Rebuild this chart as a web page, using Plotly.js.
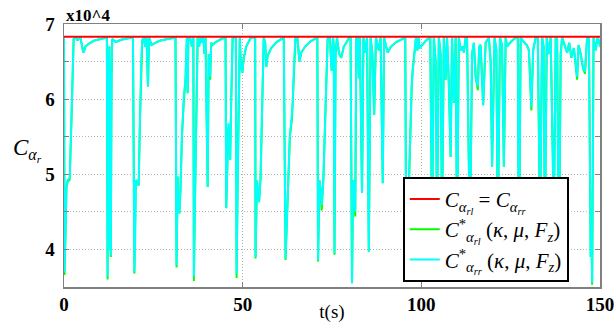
<!DOCTYPE html>
<html>
<head>
<meta charset="utf-8">
<script src="https://cdn.plot.ly/plotly-3.0.1.min.js"></script>
<style>html,body{margin:0;padding:0;background:#fff;}#chart{width:614px;height:323px;}</style>
</head>
<body>
<div id="chart"></div>
<script>
// time (s)
const tSec = [
0,0.15,0.4,0.7,1.0,1.6,2.0,2.5,2.7,3.3,3.8,4.2,4.6,5.3,5.5,6.0,7.0,8.5,10.0,11.5,
12.0,12.2,12.4,12.55,12.7,12.9,13.1,13.3,13.5,14.5,16.0,18.0,19.3,19.7,19.9,20.1,20.5,20.9,21.2,21.6,
21.9,22.3,22.7,23.1,23.5,23.8,24.5,25.5,27.0,29.0,31.2,31.5,31.8,32.0,32.3,32.6,33.0,33.5,34.0,34.2,
34.4,34.6,34.8,35.3,35.8,36.2,36.35,36.6,37.0,37.4,37.8,38.2,38.6,39.0,39.3,39.6,40.2,40.5,40.9,41.2,
41.5,42.5,44.0,45.2,45.4,45.7,46.0,46.2,46.5,46.8,47.2,48.1,48.3,48.6,48.9,49.2,49.5,49.9,50.3,51.0,
52.3,53.5,53.6,54.0,54.3,54.6,55.0,55.4,55.9,56.3,56.6,57.0,58.0,59.5,61.5,62.0,62.6,63.2,63.8,64.0,
64.4,64.8,65.3,65.9,66.4,67.5,69.0,70.9,71.1,71.5,71.8,72.1,72.6,73.2,73.8,74.4,74.9,75.3,75.5,75.7,
76.0,76.4,77.0,77.6,78.3,79.0,79.8,80.2,80.6,80.9,81.2,81.5,81.8,82.2,82.5,82.8,83.4,83.8,84.3,84.8,
85.3,85.8,86.3,86.8,87.3,88.1,88.6,89.2,89.6,90.0,90.6,91.5,93.0,95.5,95.8,96.3,96.8,97.3,97.6,98.0,
98.5,98.9,99.2,99.5,100.5,101.5,102.5,103.0,103.5,104.0,104.4,104.9,105.4,105.8,106.3,106.8,107.2,107.7,108.2,108.6,
109.1,109.6,110.0,110.5,111.0,111.5,111.9,112.4,112.8,113.6,114.2,114.7,115.2,115.8,116.2,116.6,117.3,118.0,118.9,119.4,
119.8,120.5,121.0,121.4,122.0,122.6,123.1,123.6,124.0,125.0,126.4,127.0,127.3,127.8,128.7,129.5,130.1,130.8,131.3,132.0,
132.6,133.2,133.8,134.2,134.6,135.1,135.6,136.2,137.1,137.6,138.0,138.5,139.0,139.4,140.2,140.8,141.4,142.0,142.7,143.3,
143.6,144.0,144.6,145.3,145.8,146.4,146.9,147.4,147.6,147.8,148.2,148.8,149.3,149.7,150.0
];
// C*_alpha_rr (x10^4)
const cyanVals = [
6.82,3.70,4.20,4.85,4.92,4.95,5.60,6.50,6.80,6.82,6.78,6.82,6.82,6.64,6.62,6.70,6.74,6.78,6.80,6.82,
6.82,3.64,6.60,4.00,6.70,4.50,3.92,6.30,6.80,6.76,6.79,6.81,6.82,3.71,4.10,4.92,4.90,4.85,5.60,6.50,
6.78,6.82,6.70,6.82,6.17,6.82,6.72,6.75,6.78,6.80,6.82,3.79,4.97,4.60,4.48,4.80,5.50,6.00,6.26,6.55,
6.82,6.08,6.80,6.82,6.70,6.82,3.64,4.50,6.00,6.82,6.70,6.82,6.75,6.82,6.60,6.82,4.83,6.60,6.30,6.75,
6.72,6.76,6.80,6.82,4.55,5.00,5.68,5.55,5.19,6.00,6.82,6.82,3.68,4.90,5.80,6.82,6.45,6.35,6.55,6.70,
6.82,6.82,3.90,4.92,4.75,4.63,4.95,6.00,6.82,6.75,6.43,6.58,6.68,6.76,6.82,3.88,4.80,5.50,5.81,5.95,
6.50,6.82,6.82,6.50,6.62,6.70,6.77,6.82,3.86,4.92,4.80,4.59,4.95,6.00,6.82,6.82,6.38,6.82,6.70,3.95,
6.60,6.82,6.60,6.55,6.70,6.75,6.82,6.82,3.55,4.92,4.90,4.50,6.82,6.82,6.28,6.82,4.75,6.82,6.62,6.82,
3.97,6.82,6.60,5.79,6.82,6.65,6.82,4.88,6.82,6.73,6.62,6.70,6.76,6.82,3.68,4.50,5.50,6.20,6.39,6.60,
6.82,6.65,6.82,6.68,6.74,6.79,6.82,4.20,6.82,6.50,4.40,6.82,6.60,4.30,6.82,6.26,6.82,6.20,5.23,6.82,
5.95,6.82,4.20,6.82,6.65,6.70,6.62,6.82,6.82,4.10,6.60,6.75,6.30,6.17,6.70,6.72,5.92,6.75,6.82,6.50,
5.10,6.82,6.65,4.20,6.82,6.72,5.10,6.82,6.70,6.76,6.82,6.82,3.65,6.82,6.76,6.72,6.65,5.90,6.65,6.82,
6.82,4.30,6.82,6.70,4.20,6.82,6.60,6.82,4.40,6.82,6.80,3.72,6.60,6.82,6.70,6.62,6.75,6.55,6.68,6.45,
6.30,6.72,6.60,6.40,6.37,6.82,6.82,3.90,4.30,3.56,6.82,6.65,6.82,6.78,6.70
];
// C*_alpha_rl (x10^4)
const greenVals = [
6.82,3.66,4.18,4.83,4.90,4.93,5.58,6.48,6.80,6.82,6.78,6.82,6.82,6.64,6.62,6.70,6.74,6.78,6.80,6.82,
6.82,3.60,6.60,4.00,6.70,4.50,3.90,6.30,6.80,6.76,6.79,6.81,6.82,3.68,4.10,4.92,4.90,4.85,5.60,6.50,
6.78,6.82,6.70,6.82,6.17,6.82,6.72,6.75,6.78,6.80,6.82,3.76,4.97,4.60,4.48,4.80,5.50,5.95,6.26,6.55,
6.82,6.08,6.80,6.82,6.70,6.82,3.58,4.50,6.00,6.82,6.70,6.82,6.75,6.82,6.60,6.82,4.83,6.60,6.26,6.75,
6.72,6.76,6.80,6.82,4.55,5.00,5.62,5.55,5.19,6.00,6.82,6.82,3.62,4.90,5.80,6.82,6.45,6.35,6.55,6.70,
6.82,6.82,3.88,4.92,4.75,4.63,4.93,6.00,6.82,6.75,6.43,6.58,6.68,6.76,6.82,3.86,4.80,5.50,5.74,5.95,
6.50,6.82,6.82,6.50,6.62,6.70,6.77,6.82,3.84,4.92,4.80,4.52,4.95,6.00,6.82,6.82,6.38,6.82,6.70,3.93,
6.60,6.82,6.60,6.55,6.70,6.75,6.82,6.82,3.55,4.92,4.90,4.44,6.82,6.82,6.28,6.82,4.75,6.82,6.62,6.82,
3.97,6.82,6.60,5.79,6.82,6.65,6.82,4.88,6.82,6.73,6.62,6.70,6.76,6.82,3.62,4.50,5.50,6.15,6.39,6.60,
6.82,6.65,6.82,6.68,6.74,6.79,6.82,4.15,6.82,6.50,4.40,6.82,6.60,4.30,6.82,6.26,6.82,6.20,5.23,6.82,
5.95,6.82,4.20,6.82,6.65,6.70,6.62,6.82,6.82,4.10,6.60,6.75,6.30,6.12,6.70,6.72,5.92,6.75,6.82,6.50,
5.10,6.82,6.65,4.20,6.82,6.72,5.10,6.82,6.70,6.76,6.82,6.82,3.62,6.82,6.76,6.72,6.65,5.85,6.65,6.82,
6.82,4.30,6.82,6.70,4.20,6.82,6.60,6.82,4.40,6.82,6.80,3.68,6.60,6.82,6.70,6.62,6.75,6.55,6.68,6.45,
6.26,6.72,6.60,6.40,6.34,6.82,6.82,3.90,4.30,3.53,6.82,6.65,6.82,6.78,6.70
];
// constant C_alpha_rl = C_alpha_rr (x10^4)
const redT = [0, 150];
const redVals = [6.83, 6.83];

const xTickVals = [0, 50, 100, 150];
const xTickText = ['0', '50', '100', '150'];
const yTickVals = [4, 4.5, 5, 5.5, 6, 6.5, 7];
const yTickText = ['4', '', '5', '', '6', '', '7'];

const serif = 'Liberation Serif, Times New Roman, serif';
const bold = s => s ? '<b>' + s + '</b>' : '';

const traces = [
  {x: tSec, y: greenVals, type: 'scatter', mode: 'lines', line: {color: '#00ff00', width: 2},
   name: '<i>C</i><sup>*</sup><sub><i>α</i><sub><i>rl</i></sub></sub> (<i>κ</i>, <i>μ</i>, <i>F<sub>z</sub></i>)', legendrank: 2},
  {x: tSec, y: cyanVals, type: 'scatter', mode: 'lines', line: {color: '#00ffff', width: 2},
   name: '<i>C</i><sup>*</sup><sub><i>α</i><sub><i>rr</i></sub></sub> (<i>κ</i>, <i>μ</i>, <i>F<sub>z</sub></i>)', legendrank: 3},
  {x: redT, y: redVals, type: 'scatter', mode: 'lines', line: {color: '#ff0000', width: 2},
   name: '<i>C</i><sub><i>α</i><sub><i>rl</i></sub></sub> = <i>C</i><sub><i>α</i><sub><i>rr</i></sub></sub>', legendrank: 1}
];

const layout = {
  width: 614, height: 323,
  margin: {l: 64, r: 14, t: 24, b: 36},
  paper_bgcolor: '#fff', plot_bgcolor: '#fff',
  showlegend: true,
  font: {family: serif, color: '#000'},
  xaxis: {
    range: [0, 150], tickvals: xTickVals, ticktext: xTickText.map(bold),
    showgrid: true, gridcolor: '#b4b4b4', griddash: '1px,2px', gridwidth: 1,
    zeroline: false, showline: true, linecolor: '#808080', linewidth: 1.5, mirror: 'ticks',
    ticks: 'inside', ticklen: 5, tickcolor: '#808080', ticklabeloverflow: 'allow',
    tickfont: {family: serif, size: 19},
    title: {text: 't(s)', font: {family: serif, size: 19}, standoff: 2}
  },
  yaxis: {
    range: [3.5, 7], tickvals: yTickVals, ticktext: yTickText.map(bold),
    showgrid: true, gridcolor: '#b4b4b4', griddash: '1px,2px', gridwidth: 1,
    zeroline: false, showline: true, linecolor: '#808080', linewidth: 1.5, mirror: 'ticks',
    ticks: 'inside', ticklen: 5, tickcolor: '#808080', ticklabeloverflow: 'allow',
    tickfont: {family: serif, size: 19}, ticklabelstandoff: 4
  },
  legend: {
    x: 0.632, y: 0.419, xanchor: 'left', yanchor: 'top',
    bgcolor: '#fff', bordercolor: '#000', borderwidth: 2,
    font: {family: serif, size: 21}, itemwidth: 30, tracegroupgap: 0
  },
  annotations: [
    {text: '<b>x10^4</b>', xref: 'paper', yref: 'paper', x: 0, y: 1, xanchor: 'left', yanchor: 'bottom',
     showarrow: false, font: {family: serif, size: 17}, yshift: -3},
    {text: '<i>C</i><sub><i>α</i><sub><i>r</i></sub></sub>', xref: 'paper', yref: 'paper', x: -0.068, y: 0.52,
     xanchor: 'center', yanchor: 'middle', showarrow: false, font: {family: serif, size: 23}}
  ]
};

Plotly.newPlot('chart', traces, layout, {displayModeBar: false, staticPlot: true});
</script>
</body>
</html>
